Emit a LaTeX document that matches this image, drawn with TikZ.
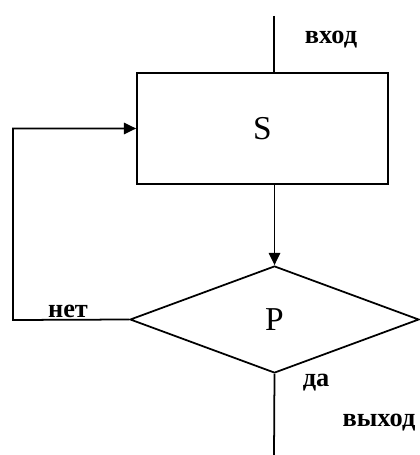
\documentclass[tikz,border=0pt]{standalone}
\usepackage{fontspec}
\setmainfont{Liberation Serif}
\usetikzlibrary{arrows.meta,positioning,shapes.geometric}

\begin{document}
\begin{tikzpicture}[
    x=0.02cm, y=-0.02cm,
    line width=1pt,
    every node/.style={font=\fontsize{15}{17}\selectfont\bfseries},
    block/.style={draw, rectangle, minimum width=5.02cm, minimum height=2.22cm, inner sep=0pt, font=\fontsize{19}{21}\selectfont},
    cond/.style={draw, diamond, minimum width=5.78cm, minimum height=2.14cm, inner sep=0pt, font=\fontsize{19}{21}\selectfont},
    arr/.style={-{Triangle[length=7pt,width=6.5pt]}}
  ]
    \useasboundingbox (0,0) rectangle (419,455);
    \node[block] (body) at (262.5,128.5) {S};
    \node[cond] (test) at (274.5,319.5) {P};
    \coordinate (in) at (274,16);
    \coordinate (out) at (274,455);
    \coordinate (loop) at (13,320);
    \draw (in) -- (in |- body.north);
    \draw[arr] (test.north |- body.south) -- (test.north);
    \draw[arr] (test.west) -- (loop) |- (body.west);
    \draw (test.south) -- (out);
    \node (lblin) at (331,40) {вход};
    \node (lblno) at (68,311) {нет};
    \node (lblyes) at (316,383) {да};
    \node (lblout) at (379,423) {выход};
  \end{tikzpicture}
\end{document}
